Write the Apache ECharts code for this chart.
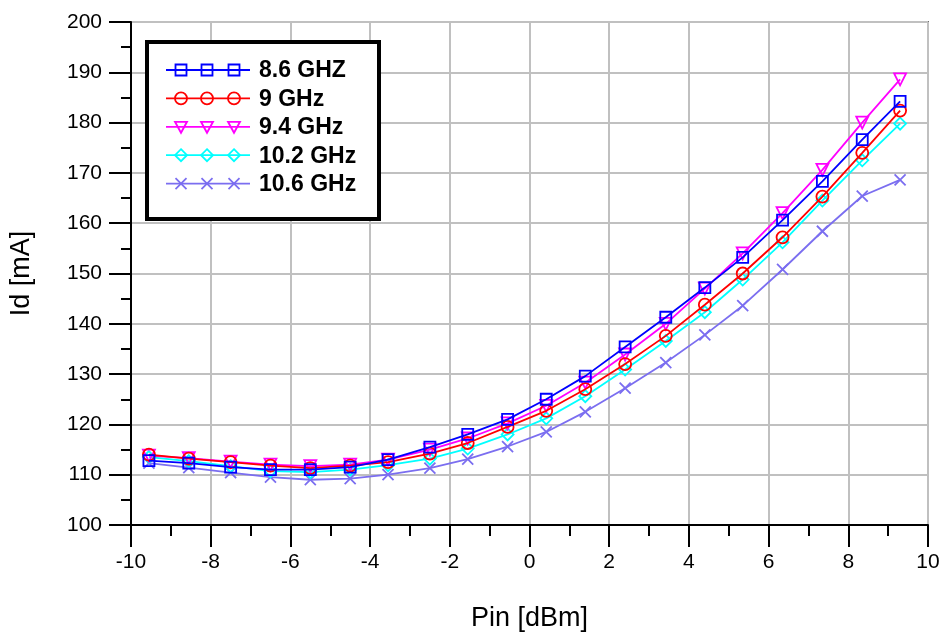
<!DOCTYPE html>
<html>
<head>
<meta charset="utf-8">
<script src="https://cdn.jsdelivr.net/npm/echarts@6/dist/echarts.min.js"></script>
<style>
  html, body { margin: 0; padding: 0; background: #fff; }
  #chart { width: 944px; height: 637px; }
</style>
</head>
<body>
<div id="chart"></div>
<script>
// Pin values (dBm) of the sweep points
const pinValues = [-9.55, -8.55, -7.5, -6.5, -5.5, -4.5, -3.55, -2.5, -1.55, -0.55,
  0.42, 1.4, 2.4, 3.42, 4.4, 5.35, 6.35, 7.35, 8.35, 9.3];

// Id (mA) for each frequency
const id86 = [112.8, 112.3, 111.5, 111.0, 111.0, 111.5, 113.0, 115.5, 118.0, 121.0,
  125.0, 129.6, 135.4, 141.3, 147.2, 153.2, 160.6, 168.3, 176.6, 184.2];
const id90 = [114.0, 113.2, 112.5, 111.8, 111.3, 111.8, 112.5, 114.2, 116.3, 119.5,
  122.7, 127.0, 132.0, 137.6, 143.8, 150.0, 157.2, 165.3, 174.0, 182.4];
const id94 = [113.8, 113.3, 112.6, 112.0, 111.7, 112.0, 113.0, 115.0, 117.2, 120.2,
  123.7, 128.3, 133.9, 140.0, 147.0, 154.0, 162.0, 170.6, 180.0, 188.6];
const id102 = [113.5, 112.7, 111.7, 110.7, 110.5, 111.0, 111.9, 113.2, 115.2, 118.0,
  121.2, 125.6, 130.9, 136.6, 142.3, 148.8, 156.2, 164.5, 172.5, 179.8];
const id106 = [112.3, 111.4, 110.4, 109.5, 109.0, 109.2, 110.0, 111.3, 113.1, 115.6,
  118.5, 122.5, 127.2, 132.3, 137.8, 143.6, 150.8, 158.4, 165.4, 168.6];

const seriesNames = ["8.6 GHZ", "9 GHz", "9.4 GHz", "10.2 GHz", "10.6 GHz"];
const seriesData = [id86, id90, id94, id102, id106];
const seriesColors = ["#0000ff", "#ff0000", "#ff00ff", "#00ffff", "#7b6ef0"];

const xTicks = { min: -10, max: 10, interval: 2 };
const yTicks = { min: 100, max: 200, interval: 10 };

const symbols = [
  { symbol: "rect", size: 11, rotate: 0 },
  { symbol: "circle", size: 12, rotate: 0 },
  { symbol: "triangle", size: 12, rotate: 180 },
  { symbol: "diamond", size: 12, rotate: 0 },
  { symbol: "path://M0,0L10,10M10,0L0,10", size: 11, rotate: 0 }
];

let myChart = echarts.init(document.getElementById("chart"));

let series = seriesData.map((ys, i) => ({
  name: seriesNames[i],
  type: "line",
  data: pinValues.map((x, k) => [x, ys[k]]),
  symbol: symbols[i].symbol,
  symbolSize: symbols[i].size,
  symbolRotate: symbols[i].rotate,
  showAllSymbol: true,
  lineStyle: { color: seriesColors[i], width: 1.8 },
  itemStyle: { color: "transparent", borderColor: seriesColors[i], borderWidth: 1.8 },
  z: 10 - i
}));

// legend box drawn as graphic (three markers per entry like the original)
let legendItems = [];
legendItems.push({
  type: "rect",
  shape: { x: 147, y: 42, width: 232, height: 177 },
  style: { fill: "#fff", stroke: "#000", lineWidth: 4 },
  z: 100
});
function markerShape(i, cx, cy, color) {
  let st = { fill: "none", stroke: color, lineWidth: 1.8 };
  if (i === 0) return [{ type: "rect", shape: { x: cx - 5.5, y: cy - 5.5, width: 11, height: 11 }, style: st }];
  if (i === 1) return [{ type: "circle", shape: { cx: cx, cy: cy, r: 6 }, style: st }];
  if (i === 2) return [{ type: "polygon", shape: { points: [[cx - 6, cy - 5], [cx + 6, cy - 5], [cx, cy + 6]] }, style: st }];
  if (i === 3) return [{ type: "polygon", shape: { points: [[cx, cy - 6], [cx + 6, cy], [cx, cy + 6], [cx - 6, cy]] }, style: st }];
  return [
    { type: "line", shape: { x1: cx - 5.5, y1: cy - 5.5, x2: cx + 5.5, y2: cy + 5.5 }, style: st },
    { type: "line", shape: { x1: cx + 5.5, y1: cy - 5.5, x2: cx - 5.5, y2: cy + 5.5 }, style: st }
  ];
}
seriesNames.forEach((name, i) => {
  let cy = 70 + i * 28.4;
  legendItems.push({
    type: "line", shape: { x1: 166, y1: cy, x2: 250, y2: cy },
    style: { stroke: seriesColors[i], lineWidth: 1.8 }, z: 101
  });
  [181, 207, 234].forEach(cx => {
    markerShape(i, cx, cy, seriesColors[i]).forEach(m => { m.z = 102; legendItems.push(m); });
  });
  legendItems.push({
    type: "text", x: 259, y: cy + 1, z: 102,
    style: { text: name, fill: "#000", font: "bold 23px 'Liberation Sans', Arial, sans-serif", verticalAlign: "middle" }
  });
});

myChart.setOption({
  animation: false,
  backgroundColor: "#fff",
  textStyle: { fontFamily: "'Liberation Sans', Arial, sans-serif" },
  grid: {
    left: 129, right: 16, top: 22, bottom: 109,
    show: true, borderColor: "#000", borderWidth: 1.5,
    containLabel: false
  },
  xAxis: {
    type: "value",
    min: xTicks.min, max: xTicks.max, interval: xTicks.interval,
    name: "Pin [dBm]",
    nameLocation: "middle",
    nameGap: 80,
    nameTextStyle: { fontSize: 27, color: "#000" },
    axisLine: { onZero: false, lineStyle: { color: "#000", width: 2 } },
    axisTick: { show: true, length: 22, lineStyle: { color: "#000", width: 2 } },
    minorTick: { show: true, splitNumber: 2, length: 11, lineStyle: { color: "#000", width: 2 } },
    axisLabel: { fontSize: 21, color: "#000", margin: 27 },
    splitLine: { show: true, lineStyle: { color: "#c0c0c0", width: 2 } }
  },
  yAxis: {
    type: "value",
    min: yTicks.min, max: yTicks.max, interval: yTicks.interval,
    name: "Id [mA]",
    nameLocation: "middle",
    nameGap: 96,
    nameTextStyle: { fontSize: 27, color: "#000" },
    axisLine: { onZero: false, lineStyle: { color: "#000", width: 2 } },
    axisTick: { show: true, length: 22, lineStyle: { color: "#000", width: 2 } },
    minorTick: { show: true, splitNumber: 2, length: 10, lineStyle: { color: "#000", width: 2 } },
    axisLabel: { fontSize: 21, color: "#000", margin: 29 },
    splitLine: { show: true, lineStyle: { color: "#c0c0c0", width: 2 } }
  },
  graphic: legendItems,
  series: series
});
</script>
</body>
</html>
